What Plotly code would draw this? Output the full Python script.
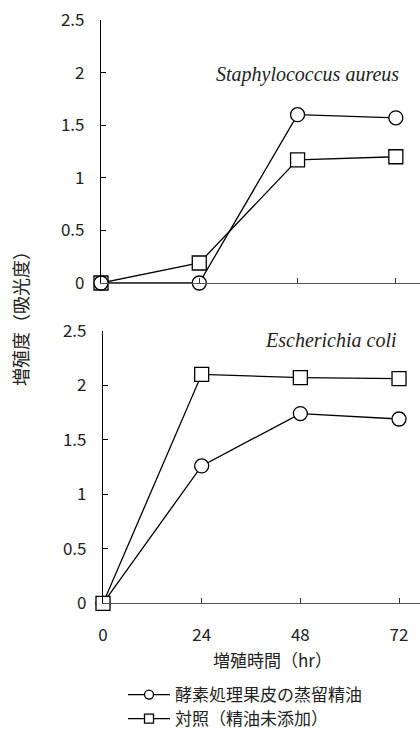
import plotly.graph_objects as go

hours = [0, 24, 48, 72]
x_ticks = [0, 24, 48, 72]
y_ticks = [0, 0.5, 1, 1.5, 2, 2.5]
y_tick_text = ["0", "0.5", "1", "1.5", "2", "2.5"]

series_names = ["酵素処理果皮の蒸留精油", "対照（精油未添加）"]
# Staphylococcus aureus
sa_oil = [0.0, 0.0, 1.60, 1.57]
sa_ctrl = [0.0, 0.19, 1.17, 1.20]
# Escherichia coli
ec_oil = [0.0, 1.26, 1.74, 1.69]
ec_ctrl = [0.0, 2.10, 2.07, 2.06]

FONT = "Noto Sans CJK JP"
LINE = dict(color="black", width=1.3)


def marker(sym, size=14):
    return dict(symbol=sym, size=size, color="white", line=dict(color="black", width=1.3))


fig = go.Figure()
# top panel
fig.add_trace(go.Scatter(x=hours, y=sa_ctrl, mode="lines+markers", line=LINE,
                         marker=marker("square"), showlegend=False, cliponaxis=False,
                         xaxis="x", yaxis="y"))
fig.add_trace(go.Scatter(x=hours, y=sa_oil, mode="lines+markers", line=LINE,
                         marker=marker("circle"), showlegend=False, cliponaxis=False,
                         xaxis="x", yaxis="y"))
# bottom panel
fig.add_trace(go.Scatter(x=hours, y=ec_oil, mode="lines+markers", line=LINE,
                         marker=marker("circle"), showlegend=False, cliponaxis=False,
                         xaxis="x2", yaxis="y2"))
fig.add_trace(go.Scatter(x=hours, y=ec_ctrl, mode="lines+markers", line=LINE,
                         marker=marker("square"), showlegend=False, cliponaxis=False,
                         xaxis="x2", yaxis="y2"))
# legend entries (one legend per row)
for name, sym, lg in zip(series_names, ["circle", "square"], ["legend", "legend2"]):
    fig.add_trace(go.Scatter(x=[None], y=[None], mode="lines+markers", name=name,
                             line=LINE, marker=marker(sym, 9), xaxis="x2", yaxis="y2",
                             legend=lg))

W, H = 420, 729
common_y = dict(range=[0, 2.5], tickvals=y_ticks, ticktext=y_tick_text, ticks="inside",
                ticklen=5, tickcolor="black", showline=True, linecolor="black", linewidth=1.2,
                showgrid=False, zeroline=False, tickfont=dict(family=FONT, size=17, color="#222"),
                ticklabelstandoff=12, fixedrange=True)
common_x = dict(tickvals=x_ticks, ticks="inside", ticklen=5, tickcolor="#333",
                showline=True, linecolor="#555", linewidth=1.2, showgrid=False, zeroline=False,
                tickfont=dict(family=FONT, size=17, color="#222"), fixedrange=True)

leg_common = dict(xanchor="left", yanchor="middle", font=dict(family=FONT, size=17, color="#222"),
                  bgcolor="rgba(0,0,0,0)", itemwidth=42, borderwidth=0)

fig.update_layout(
    width=W, height=H,
    margin=dict(l=0, r=0, t=0, b=0, autoexpand=False),
    paper_bgcolor="white", plot_bgcolor="white",
    font=dict(family=FONT, size=18, color="#222"),
    xaxis=dict(domain=[101 / W, 1], range=[0, 77.9], anchor="y", showticklabels=False, **common_x),
    yaxis=dict(domain=[1 - 283 / H, 1 - 20 / H], anchor="x", **common_y),
    xaxis2=dict(domain=[103 / W, 1], range=[0, 77.1], anchor="y2", ticklabelstandoff=16, **common_x),
    yaxis2=dict(domain=[1 - 603.3 / H, 1 - 330.7 / H], anchor="x2", **common_y),
    legend=dict(x=123 / W, y=1 - 695 / H, **leg_common),
    legend2=dict(x=123 / W, y=1 - 719 / H, **leg_common),
    annotations=[
        dict(text="Staphylococcus aureus", xref="paper", yref="paper", x=401 / W, y=1 - 74 / H,
             xanchor="right", yanchor="middle", showarrow=False,
             font=dict(family="Liberation Serif", size=20, style="italic", color="#222")),
        dict(text="Escherichia coli", xref="paper", yref="paper", x=399 / W, y=1 - 340 / H,
             xanchor="right", yanchor="middle", showarrow=False,
             font=dict(family="Liberation Serif", size=20, style="italic", color="#222")),
        dict(text="増殖度（吸光度）", xref="paper", yref="paper", x=20 / W, y=1 - 314 / H,
             xanchor="center", yanchor="middle", textangle=-90, showarrow=False,
             font=dict(family=FONT, size=18, color="#222")),
        dict(text="増殖時間（hr）", xref="paper", yref="paper", x=272 / W, y=1 - 659 / H,
             xanchor="center", yanchor="middle", showarrow=False,
             font=dict(family=FONT, size=17, color="#222")),
    ],
)

fig.write_html("out.html")
